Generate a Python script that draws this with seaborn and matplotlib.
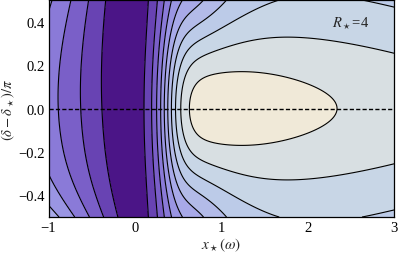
import numpy as np
import matplotlib
matplotlib.use("Agg")
import matplotlib.pyplot as plt
import seaborn as sns

# contour levels and band colours (dark minimum -> cream maximum)
levels_inner = [1, 2, 3, 4, 5, 6, 7, 8, 9, 10]
band_colors = ['#4b1587', '#6843b3', '#7a5fc8', '#8a7ad8', '#9a95e3', '#a8a9e8',
               '#b3bbe8', '#bccbe8', '#c8d6e6', '#d8dfe2', '#f0e9d8']

# axis ranges / ticks
x_range = [-1, 3]
y_range = [-0.5, 0.5]
x_major = [-1, 0, 1, 2, 3]
y_major = [-0.4, -0.2, 0.0, 0.2, 0.4]
y_ticklabels = ['\u22120.4', '\u22120.2', '0.0', '0.2', '0.4']
R_star = 4

# parameters of the plotted surface (shape)
step_center, step_width = 0.36, 0.22
plateau_a, plateau_b = 11.17, 0.5
q_base, q_amp, q_center, q_width = 1.9, 4.0, 0.6, 0.55
left_amp, left_scale = 8.0, 1.87
left_x0, left_tilt, left_curv = -0.15, -0.1, 0.2
left_even, left_low = 0.91, 4.4


def surface(x, y):
    sy = np.sin(0.75 * np.pi * y) ** 2
    step = 0.5 * (1 + np.tanh((x - step_center) / step_width))
    h0 = plateau_a - plateau_b * x
    q = q_base + q_amp / (1 + ((x - q_center) / q_width) ** 2)
    right = step * (h0 - q * sy)
    x1 = left_x0 + left_tilt * y + left_curv * y ** 2
    w = 0.03
    d = w * np.log1p(np.exp((x1 - x) / w))
    factor = 1 + left_even * y ** 2 + left_low * np.clip(-y, 0, None) ** 4
    left = left_amp * np.tanh(d / left_scale) * factor
    return right + left


xs = np.linspace(x_range[0], x_range[1], 500)
ys = np.linspace(y_range[0], y_range[1], 300)
X, Y = np.meshgrid(xs, ys)
Z = surface(X, Y)

sns.set_style("ticks")
plt.rcParams['font.family'] = ['Liberation Serif', 'DejaVu Serif']
plt.rcParams['mathtext.fontset'] = 'stix'

fig = plt.figure(figsize=(3.99, 2.55), dpi=100)
ax = fig.add_axes([0.1216, 0.145, 0.866, 0.851])

levels = [Z.min() - 1] + levels_inner + [Z.max() + 1]
ax.contourf(X, Y, Z, levels=levels, colors=band_colors)
ax.contour(X, Y, Z, levels=levels_inner, colors='black', linewidths=0.8)
ax.axhline(0, color='black', ls=(0, (3, 1.6)), lw=1.0)

ax.set_xlim(x_range)
ax.set_ylim(y_range)
ax.set_xticks(x_major)
ax.set_xticklabels([str(v) if v >= 0 else '\u2212' + str(-v) for v in x_major])
ax.set_yticks(y_major)
ax.set_yticklabels(y_ticklabels)
ax.set_xticks(np.arange(-1, 3.01, 0.2), minor=True)
ax.set_yticks(np.arange(-0.5, 0.51, 0.1), minor=True)
ax.tick_params(which='both', direction='in', top=True, right=True, colors='black',
               labelsize=10.5, width=0.6)
ax.tick_params(which='major', length=4, pad=3)
ax.tick_params(which='minor', length=2)
for sp in ax.spines.values():
    sp.set_linewidth(0.9)
    sp.set_color('black')

ax.set_xlabel(r'$x_\star(\omega)$', fontsize=11)
ax.set_ylabel(r'$(\delta-\delta_\star)/\pi$', fontsize=10.5)
ax.xaxis.set_label_coords(0.5, -0.085)
ax.yaxis.set_label_coords(-0.09, 0.5)

ax.text(2.5, 0.4, r'$R_\star$=' + str(R_star), fontsize=10.5, ha='center', va='center')

fig.savefig('out.png', dpi=100)
